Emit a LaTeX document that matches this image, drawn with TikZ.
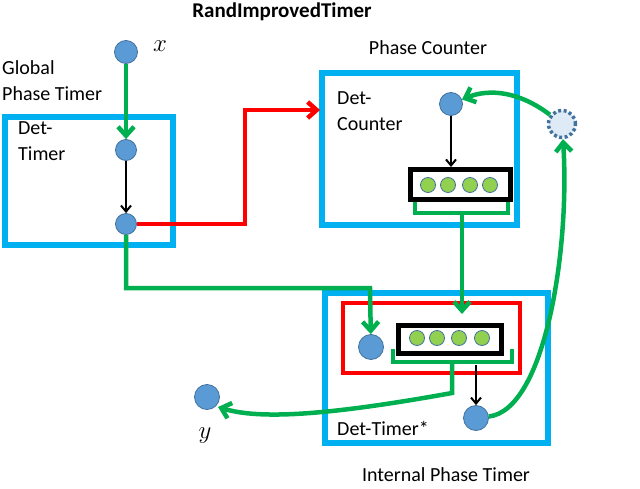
\documentclass[tikz,border=0pt]{standalone}
\usepackage{fontspec}
\setmainfont{Carlito}
\usetikzlibrary{arrows.meta}
\definecolor{cy}{RGB}{0,176,240}
\definecolor{gr}{RGB}{0,176,80}
\definecolor{bl}{RGB}{91,155,213}
\definecolor{bld}{RGB}{65,113,156}
\definecolor{lg}{RGB}{146,208,80}
\definecolor{lb}{RGB}{222,235,247}
\begin{document}
\begin{tikzpicture}[x=1pt,y=-1pt,
 dot/.style={circle,fill=bl,draw=bld,line width=0.8pt,minimum size=23pt,inner sep=0pt},
 sdot/.style={circle,fill=lg,draw=bld,line width=0.8pt,minimum size=15pt,inner sep=0pt},
 cbox/.style={draw=cy,line width=5.5pt},
 gl/.style={draw=gr,line width=4.5pt},
 ga/.style={gl,-{Straight Barb[length=9pt,width=16pt]}},
 ba/.style={draw=black,line width=2pt,-{Straight Barb[length=6pt,width=10pt]}},
 txt/.style={font=\fontsize{20}{26}\selectfont,align=left,inner sep=0pt}]
\useasboundingbox (0,0) rectangle (640,489);
\node[txt,font=\fontsize{21}{24}\selectfont\bfseries] (title) at (282,12) {RandImprovedTimer};
% left box
\draw[cbox] (5,117) rectangle (173,245);
\node[txt,anchor=north west] (glob) at (2,60) {Global\\Phase Timer};
\node[txt,anchor=north west] (dt) at (18,121) {Det-\\Timer};
\node[dot] (x) at (126,52) {};
\node (xl) at (160,46) {\fontsize{24}{26}\selectfont$x$};
\node[dot,minimum size=21pt] (a1) at (126,150) {};
\node[dot,minimum size=21pt] (a2) at (126,224) {};
\draw[ga] (x) -- (a1);
\draw[ba] (a1) -- (a2);
% phase counter
\draw[cbox] (322,73) rectangle (517,225);
\node[txt] (pc) at (428,48) {Phase Counter};
\node[txt,anchor=north west] (dc) at (337,91) {Det-\\Counter};
\node[dot] (c1) at (451,104) {};
\draw[line width=5pt] (410,170) rectangle (510,200);
\foreach \i/\xx in {1/428,2/448,3/470,4/490}{\node[sdot] (cc\i) at (\xx,185) {};}
\coordinate (cb) at (410,167);
\draw[ba] (c1) -- (cb-|c1);
\draw[gl] (415,202) -- (415,213) -- (508,213) -- (508,202);
% dashed circle
\node[circle,fill=lb,draw=bld,dash pattern=on 3pt off 2.5pt,line width=3.5pt,minimum size=27pt] (d) at (562,124) {};
\draw[ga] (d) .. controls (520,92) and (490,88) .. (c1);
% internal
\draw[cbox] (325,293) rectangle (548,443);
\draw[red,line width=4.5pt] (343,303) rectangle (520,373);
\node[txt,anchor=north] (ipt) at (446,467) {Internal Phase Timer};
\node[dot,minimum size=25pt] (i1) at (371,347) {};
\draw[line width=5pt] (398,325) rectangle (501,353);
\foreach \i/\xx in {1/417,2/437,3/459,4/482}{\node[sdot] (ic\i) at (\xx,338) {};}
\draw[gl] (393,349) -- (393,362) -- (512,362) -- (512,349);
\node[dot,minimum size=25pt] (i2) at (476,418) {};
\coordinate (ib) at (476,365);
\draw[ba] (ib) -- (i2);
\node[txt,anchor=west] (dts) at (337,428) {Det-Timer*};
\node[dot,minimum size=25pt] (y) at (207,397) {};
\node (yl) at (205,436) {\fontsize{24}{26}\selectfont$y$};
% connectors
\draw[red,line width=4.5pt,-{Straight Barb[length=9pt,width=16pt]}] (a2) -- (245,224) -- (245,110) -- (320,110);
\draw[ga] (a2) -- (126,288) -- (370,288) -- (i1);
\draw[ga] (462,213) -- (462,314);
\draw[ga] (452,362) -- (452,393) .. controls (330,415) and (260,420) .. (218,407);
\draw[ga] (i2) .. controls (545,410) and (570,250) .. (d);
\end{tikzpicture}
\end{document}
